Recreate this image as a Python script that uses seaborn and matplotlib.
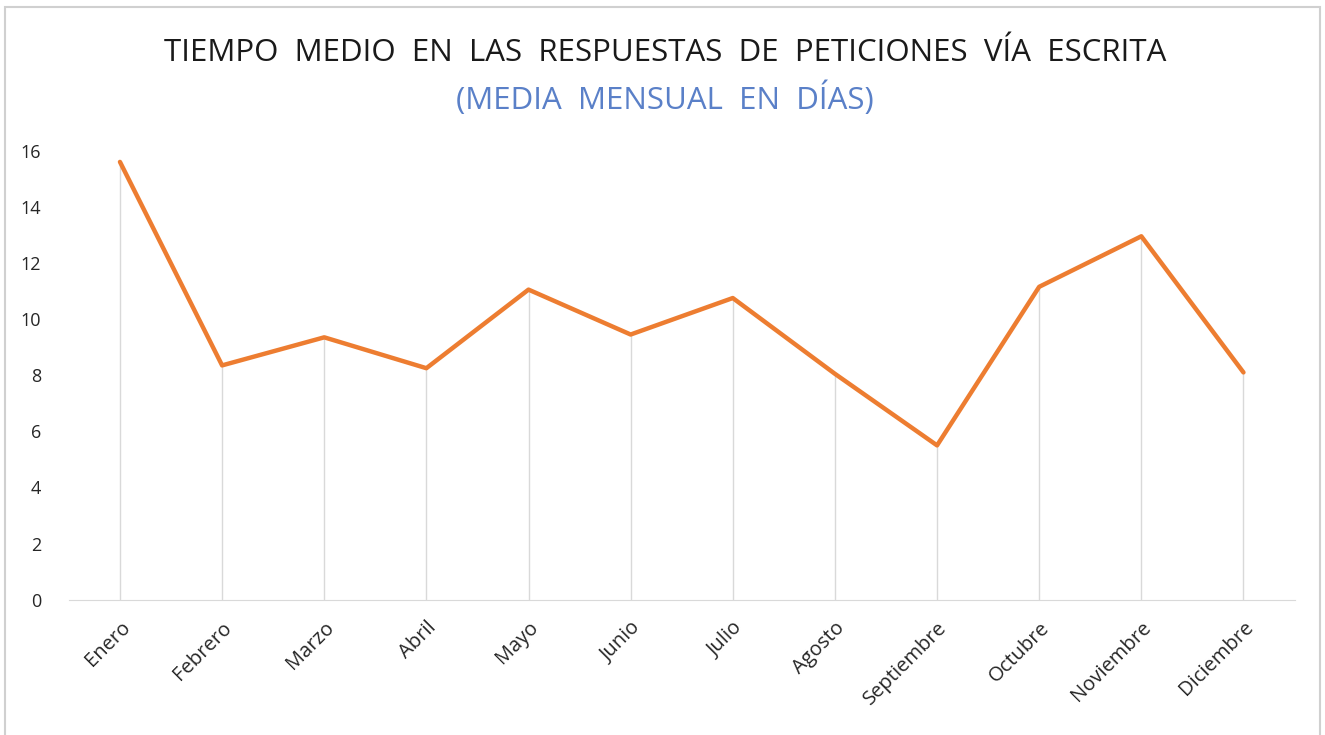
import numpy as np
import pandas as pd
import seaborn as sns
import matplotlib.pyplot as plt
from matplotlib.patches import Rectangle

# datos (media mensual en días)
meses = ['Enero', 'Febrero', 'Marzo', 'Abril', 'Mayo', 'Junio', 'Julio',
         'Agosto', 'Septiembre', 'Octubre', 'Noviembre', 'Diciembre']
dias = [15.6, 8.35, 9.35, 8.25, 11.05, 9.45, 10.75, 8.05, 5.5, 11.15, 12.95, 8.1]
yticks = [0, 2, 4, 6, 8, 10, 12, 14, 16]

df = pd.DataFrame({'mes': meses, 'dias': dias})
df['pos'] = np.arange(len(meses))

sns.set_style('white')
plt.rcParams['font.family'] = ['Open Sans', 'DejaVu Sans']

fig = plt.figure(figsize=(13.25, 7.35), dpi=100)
ax = fig.add_axes([0.052, 0.184, 0.925, 0.611])

# lineas de caida (estilo Excel)
ax.vlines(df['pos'], 0, df['dias'], color='#d9d9d9', lw=1, zorder=1)
sns.lineplot(data=df, x='pos', y='dias', color='#ED7D31', lw=3.2, ax=ax, zorder=3)

ax.set_xlim(-0.5, len(meses) - 0.5)
ax.set_ylim(0, 16)
ax.set_yticks(yticks)
ax.set_xticks(df['pos'])
ax.set_xticklabels(meses, rotation=45, ha='right', rotation_mode='anchor',
                   fontsize=14.5, color='#262626')
ax.tick_params(axis='y', labelsize=13, labelcolor='#262626', pad=20, length=0)
ax.tick_params(axis='x', pad=13, length=0)
ax.set_xlabel('')
ax.set_ylabel('')
for s in ['top', 'right', 'left']:
    ax.spines[s].set_visible(False)
ax.spines['bottom'].set_color('#d9d9d9')

fig.text(0.502, 0.928, 'TIEMPO  MEDIO  EN  LAS  RESPUESTAS  DE  PETICIONES  VÍA  ESCRITA',
         ha='center', va='center', fontsize=22.5, color='#1a1a1a')
fig.text(0.502, 0.866, '(MEDIA  MENSUAL  EN  DÍAS)',
         ha='center', va='center', fontsize=22.5, color='#5A80C8')

fig.patches.append(Rectangle((0.004, -0.01), 0.992, 1.0, transform=fig.transFigure,
                             fill=False, edgecolor='#d0d0d0', lw=1.5))

fig.savefig('out.png', dpi=100)
